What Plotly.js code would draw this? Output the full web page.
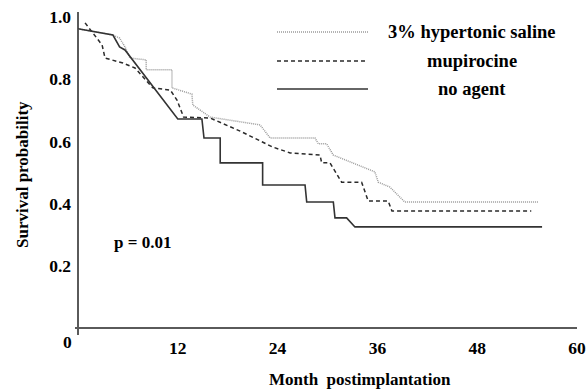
<!DOCTYPE html>
<html><head><meta charset="utf-8">
<script src="https://cdn.plot.ly/plotly-3.0.1.min.js"></script>
<style>html,body{margin:0;padding:0;background:#fff;}</style>
</head><body>
<div id="chart" style="width:587px;height:391px;"></div>
<script>
// Survival curves (months, survival probability)
const salineMonths = [0, 4.2, 5.0, 5.65, 6.25, 8.2, 8.2, 11.3, 11.3, 13.7, 13.8, 15.9, 21.9, 23.1, 28.5, 28.9, 29.9, 30.7, 35.7, 36.1, 37.5, 39.3, 55.3];
const salineSurv   = [0.962, 0.942, 0.932, 0.904, 0.868, 0.862, 0.830, 0.830, 0.772, 0.752, 0.717, 0.678, 0.653, 0.611, 0.611, 0.592, 0.592, 0.556, 0.502, 0.469, 0.453, 0.405, 0.405];

const mupiMonths = [0.85, 2.9, 3.25, 5.4, 6.85, 9.0, 11.1, 11.9, 12.7, 15.9, 19.5, 23.4, 25.5, 29.1, 29.3, 30.3, 31.7, 34.1, 34.9, 37.3, 37.75, 54.5];
const mupiSurv   = [0.981, 0.910, 0.868, 0.852, 0.836, 0.772, 0.765, 0.733, 0.678, 0.675, 0.633, 0.582, 0.563, 0.556, 0.531, 0.531, 0.469, 0.469, 0.408, 0.408, 0.376, 0.376];

const noAgentMonths = [0, 4.2, 5.0, 5.65, 12.0, 14.9, 15.15, 17.1, 17.1, 22.2, 22.2, 27.3, 27.5, 30.7, 30.9, 32.3, 33.3, 55.8];
const noAgentSurv   = [0.962, 0.942, 0.904, 0.894, 0.672, 0.672, 0.611, 0.611, 0.531, 0.531, 0.460, 0.460, 0.405, 0.405, 0.354, 0.354, 0.325, 0.325];

const xTicks = [12, 24, 36, 48, 60];
const xTickText = ["12", "24", "36", "48", "60"];
const yTicks = [0.2, 0.4, 0.6, 0.8, 1.0];
const yTickText = ["0.2", "0.4", "0.6", "0.8", "1.0"];
const seriesNames = ["3% hypertonic saline", "mupirocine", "no agent"];

const serif = "Liberation Serif, Times New Roman, serif";
const styles = [
  {color: "#9a9a9a", width: 1.5, dash: "1px,1px"},
  {color: "#2a2a2a", width: 1.5, dash: "4px,3px"},
  {color: "#333333", width: 1.6, dash: "solid"}
];
const b = s => "<b>" + s + "</b>";

const traces = [
  {x: salineMonths, y: salineSurv, mode: "lines", line: styles[0], name: seriesNames[0], showlegend: false, hoverinfo: "skip"},
  {x: mupiMonths, y: mupiSurv, mode: "lines", line: styles[1], name: seriesNames[1], showlegend: false, hoverinfo: "skip"},
  {x: noAgentMonths, y: noAgentSurv, mode: "lines", line: styles[2], name: seriesNames[2], showlegend: false, hoverinfo: "skip"}
];

// legend drawn with shapes + annotations (paper coordinates)
const plotL = 75, plotT = 12, plotW = 502, plotH = 323;
function px2paperX(p){ return (p - plotL) / plotW; }
function px2paperY(p){ return 1 - (p - plotT) / plotH; }
const legendY = [32, 61, 89];
const shapes = [];
const annotations = [];
const txtFont = (size) => ({family: serif, size: size, color: "#000"});
seriesNames.forEach((name, i) => {
  shapes.push({type: "line", xref: "paper", yref: "paper",
    x0: px2paperX(277), x1: px2paperX(368), y0: px2paperY(legendY[i]), y1: px2paperY(legendY[i]),
    line: styles[i]});
  annotations.push({xref: "paper", yref: "paper", x: px2paperX(472), y: px2paperY(legendY[i]),
    text: b(name), showarrow: false, xanchor: "center", yanchor: "middle", font: txtFont(18.5)});
});
annotations.push({xref: "paper", yref: "paper", x: px2paperX(142), y: px2paperY(242), text: b("p = 0.01"), showarrow: false,
  xanchor: "center", yanchor: "middle", font: txtFont(17)});
annotations.push({xref: "paper", yref: "paper", x: px2paperX(67), y: px2paperY(342), text: b("0"), showarrow: false,
  xanchor: "center", yanchor: "middle", font: txtFont(17.5)});
annotations.push({xref: "paper", yref: "paper", x: px2paperX(360), y: px2paperY(379), text: b("Month&nbsp;&nbsp;postimplantation"),
  showarrow: false, xanchor: "center", yanchor: "middle", font: txtFont(17)});
annotations.push({xref: "paper", yref: "paper", x: px2paperX(22), y: px2paperY(175), text: b("Survival probability"),
  textangle: -90, showarrow: false, xanchor: "center", yanchor: "middle", font: txtFont(17)});

const layout = {
  width: 587, height: 391,
  margin: {l: plotL, r: 10, t: plotT, b: 56, pad: 0},
  paper_bgcolor: "#fff", plot_bgcolor: "#fff",
  showlegend: false,
  xaxis: {range: [-0.36, 60], showgrid: false, showline: false, zeroline: true, zerolinecolor: "#5a5a5a", zerolinewidth: 2,
    tickmode: "array", tickvals: xTicks, ticktext: xTickText.map(b), ticks: "", ticklabelstandoff: 0,
    tickfont: txtFont(17.5), fixedrange: true},
  yaxis: {range: [-0.0225, 1.016], showgrid: false, showline: false, zeroline: true, zerolinecolor: "#5a5a5a", zerolinewidth: 2,
    tickmode: "array", tickvals: yTicks, ticktext: yTickText.map(b), ticks: "", ticklabelstandoff: 3,
    tickfont: txtFont(17.5), fixedrange: true},
  shapes: shapes,
  annotations: annotations
};

Plotly.newPlot("chart", traces, layout, {staticPlot: true, displayModeBar: false});
</script>
</body></html>
